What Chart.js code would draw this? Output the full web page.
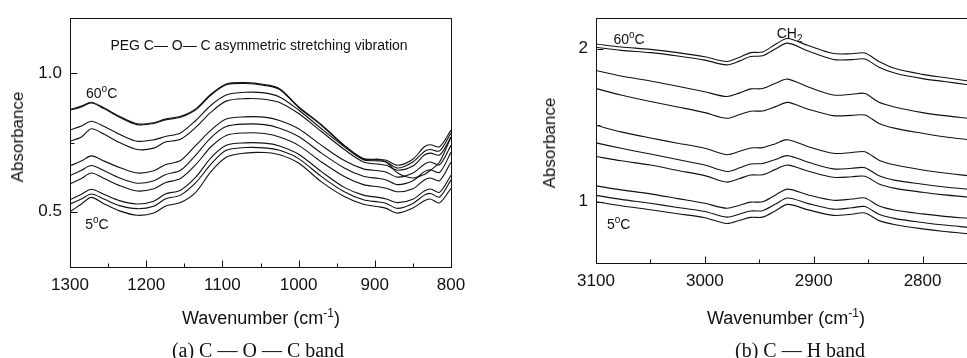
<!DOCTYPE html>
<html>
<head>
<meta charset="utf-8">
<script src="https://cdn.jsdelivr.net/npm/chart.js@4.4.1/dist/chart.umd.min.js"></script>
<style>
  html, body { margin: 0; padding: 0; background: #fff; overflow: hidden; }
  #page { position: relative; width: 967px; height: 358px; overflow: hidden; font-family: "Liberation Sans", Arial, sans-serif; color: #111; }
  canvas { position: absolute; top: 0; }
  #cocChart { left: 0; }
  #chChart { left: 487px; }
  .xtitle, .ytitle, .caption { position: absolute; white-space: nowrap; transform: translate(-50%, -50%); }
  .xtitle { font-size: 18px; }
  .ytitle { font-size: 17px; transform: translate(-50%, -50%) rotate(-90deg); }
  .caption { font-family: "Liberation Serif", "Times New Roman", serif; font-size: 20px; }
  sup { font-size: 12px; vertical-align: 7px; line-height: 0; }
</style>
</head>
<body>
<div id="page">
  <canvas id="cocChart" width="483" height="358"></canvas>
  <canvas id="chChart" width="500" height="358"></canvas>
  <div class="ytitle" style="left:18px; top:137px;">Absorbance</div>
  <div class="xtitle" style="left:261px; top:318px;">Wavenumber (cm<sup>-1</sup>)</div>
  <div class="caption" style="left:258px; top:350px;">(a) C — O — C band</div>
  <div class="ytitle" style="left:550px; top:143px;">Absorbance</div>
  <div class="xtitle" style="left:786px; top:318px;">Wavenumber (cm<sup>-1</sup>)</div>
  <div class="caption" style="left:800px; top:350px;">(b) C — H band</div>
</div>
<script>
// (a) C-O-C band, curves listed top (60 oC) to bottom (5 oC)
const cocWavenumber = [1300, 1285, 1272, 1255, 1235, 1212, 1190, 1175, 1155, 1135, 1115, 1095, 1070, 1045, 1025, 1000, 970, 940, 915, 895, 885, 870, 850, 835, 827, 815, 800];
const coc1 = [0.870, 0.882, 0.896, 0.875, 0.845, 0.818, 0.822, 0.835, 0.845, 0.872, 0.925, 0.962, 0.967, 0.960, 0.945, 0.880, 0.815, 0.740, 0.692, 0.690, 0.686, 0.668, 0.690, 0.735, 0.742, 0.735, 0.795];
const coc2 = [0.867, 0.879, 0.893, 0.872, 0.842, 0.815, 0.819, 0.832, 0.842, 0.869, 0.922, 0.959, 0.964, 0.957, 0.942, 0.877, 0.812, 0.738, 0.690, 0.688, 0.680, 0.640, 0.622, 0.635, 0.650, 0.680, 0.770];
const coc3 = [0.796, 0.810, 0.827, 0.808, 0.780, 0.755, 0.760, 0.772, 0.785, 0.830, 0.885, 0.922, 0.932, 0.930, 0.915, 0.868, 0.800, 0.735, 0.688, 0.684, 0.680, 0.658, 0.680, 0.718, 0.725, 0.720, 0.785];
const coc4 = [0.755, 0.770, 0.800, 0.780, 0.750, 0.725, 0.730, 0.752, 0.762, 0.805, 0.860, 0.900, 0.909, 0.907, 0.895, 0.855, 0.790, 0.725, 0.680, 0.672, 0.668, 0.650, 0.665, 0.705, 0.712, 0.705, 0.770];
const coc5 = [0.666, 0.683, 0.702, 0.683, 0.660, 0.640, 0.648, 0.670, 0.685, 0.740, 0.795, 0.835, 0.843, 0.842, 0.830, 0.800, 0.740, 0.685, 0.655, 0.648, 0.643, 0.625, 0.640, 0.672, 0.680, 0.670, 0.740];
const coc6 = [0.631, 0.650, 0.667, 0.648, 0.622, 0.603, 0.612, 0.634, 0.650, 0.705, 0.768, 0.808, 0.817, 0.815, 0.802, 0.772, 0.712, 0.658, 0.628, 0.620, 0.615, 0.598, 0.612, 0.645, 0.652, 0.642, 0.715];
const coc7 = [0.600, 0.620, 0.640, 0.620, 0.595, 0.575, 0.583, 0.605, 0.620, 0.670, 0.735, 0.776, 0.785, 0.783, 0.770, 0.740, 0.680, 0.627, 0.598, 0.590, 0.585, 0.572, 0.583, 0.615, 0.622, 0.612, 0.680];
const coc8 = [0.544, 0.563, 0.581, 0.562, 0.540, 0.528, 0.538, 0.564, 0.578, 0.625, 0.695, 0.740, 0.749, 0.748, 0.738, 0.708, 0.645, 0.588, 0.560, 0.552, 0.546, 0.533, 0.545, 0.575, 0.582, 0.570, 0.632];
const coc9 = [0.528, 0.546, 0.564, 0.545, 0.522, 0.511, 0.520, 0.546, 0.560, 0.605, 0.672, 0.722, 0.732, 0.731, 0.722, 0.692, 0.627, 0.572, 0.543, 0.535, 0.530, 0.512, 0.530, 0.560, 0.566, 0.553, 0.615];
const coc10 = [0.500, 0.528, 0.552, 0.528, 0.503, 0.487, 0.495, 0.520, 0.533, 0.570, 0.645, 0.697, 0.712, 0.714, 0.706, 0.676, 0.608, 0.555, 0.527, 0.518, 0.512, 0.495, 0.513, 0.540, 0.546, 0.532, 0.585];
const cocXTicks = [1300, 1200, 1100, 1000, 900, 800];
const cocXMinor = [1250, 1150, 1050, 950, 850];
const cocYTicks = [0.5, 1.0];
const cocYMinor = [0.75];

// (b) C-H band, curves listed top (60 oC) to bottom (5 oC)
const chWavenumber = [3100, 3077, 3050, 3025, 3000, 2980, 2968, 2958, 2947, 2935, 2924, 2905, 2882, 2865, 2853, 2840, 2825, 2800, 2780, 2758];
const ch1 = [2.031, 2.012, 1.996, 1.975, 1.948, 1.917, 1.945, 1.975, 1.979, 2.030, 2.067, 2.021, 1.969, 1.968, 1.972, 1.917, 1.871, 1.833, 1.812, 1.790];
const ch2 = [2.010, 1.990, 1.975, 1.953, 1.926, 1.895, 1.921, 1.950, 1.954, 2.000, 2.037, 1.985, 1.930, 1.929, 1.933, 1.880, 1.840, 1.805, 1.786, 1.765];
const ch3 = [1.858, 1.822, 1.790, 1.755, 1.719, 1.688, 1.712, 1.738, 1.740, 1.775, 1.802, 1.750, 1.698, 1.703, 1.708, 1.650, 1.618, 1.583, 1.563, 1.546];
const ch4 = [1.740, 1.698, 1.656, 1.620, 1.583, 1.546, 1.570, 1.592, 1.594, 1.622, 1.650, 1.605, 1.563, 1.565, 1.567, 1.512, 1.480, 1.448, 1.425, 1.406];
const ch5 = [1.500, 1.457, 1.417, 1.383, 1.350, 1.308, 1.330, 1.352, 1.354, 1.380, 1.406, 1.360, 1.317, 1.322, 1.327, 1.272, 1.240, 1.208, 1.188, 1.171];
const ch6 = [1.385, 1.350, 1.312, 1.276, 1.240, 1.198, 1.222, 1.247, 1.250, 1.277, 1.302, 1.258, 1.215, 1.219, 1.223, 1.170, 1.140, 1.115, 1.097, 1.083];
const ch7 = [1.296, 1.268, 1.240, 1.205, 1.171, 1.129, 1.152, 1.175, 1.177, 1.212, 1.240, 1.200, 1.160, 1.164, 1.167, 1.117, 1.088, 1.062, 1.045, 1.031];
const ch8 = [1.104, 1.078, 1.052, 1.021, 0.990, 0.958, 0.978, 0.998, 1.000, 1.045, 1.083, 1.045, 1.010, 1.018, 1.025, 0.972, 0.945, 0.921, 0.905, 0.892];
const ch9 = [1.042, 1.016, 0.990, 0.963, 0.937, 0.900, 0.920, 0.940, 0.942, 0.985, 1.025, 0.988, 0.952, 0.961, 0.969, 0.918, 0.890, 0.865, 0.848, 0.833];
const ch10 = [1.000, 0.974, 0.948, 0.922, 0.896, 0.858, 0.879, 0.898, 0.900, 0.942, 0.983, 0.947, 0.911, 0.919, 0.927, 0.877, 0.850, 0.823, 0.806, 0.792];
const chXTicks = [3100, 3000, 2900, 2800];
const chXMinor = [3050, 2950, 2850, 2750];
const chYTicks = [1, 2];
const chYMinor = [1.5];

const INK = '#111';

// draws "60" + superscript "o" + "C" style text pieces
const drawNote = (ctx, x, y, parts, size, align) => {
  const small = Math.round(size * 0.72);
  const fontOf = s => `${s}px "Liberation Sans", Arial, sans-serif`;
  let width = 0;
  parts.forEach(([t, mode]) => {
    ctx.font = fontOf(mode ? small : size);
    width += ctx.measureText(t).width;
  });
  let cx = align === 'center' ? x - width / 2 : x;
  parts.forEach(([t, mode]) => {
    ctx.font = fontOf(mode ? small : size);
    const dy = mode === 'sup' ? -size * 0.45 : mode === 'sub' ? size * 0.3 : 0;
    ctx.fillText(t, cx, y + dy);
    cx += ctx.measureText(t).width;
  });
};

// box frame, inward tick marks and in-plot labels
const frameAndNotes = {
  id: 'frameAndNotes',
  afterDraw(chart, args, opts) {
    const { ctx, chartArea: a, scales: { x, y } } = chart;
    const L = Math.round(a.left) + 0.5, R = Math.round(a.right) + 0.5;
    const T = Math.round(a.top) + 0.5, B = Math.round(a.bottom) + 0.5;
    ctx.save();
    ctx.strokeStyle = INK;
    ctx.lineWidth = 1;
    ctx.strokeRect(L, T, R - L, B - T);
    ctx.beginPath();
    const xMark = (v, len) => {
      const px = Math.round(x.getPixelForValue(v)) + 0.5;
      ctx.moveTo(px, B); ctx.lineTo(px, B - len);
    };
    const yMark = (v, len) => {
      const py = Math.round(y.getPixelForValue(v)) + 0.5;
      ctx.moveTo(L, py); ctx.lineTo(L + len, py);
    };
    opts.xMajor.forEach(v => xMark(v, 7));
    opts.xMinor.forEach(v => xMark(v, 4));
    opts.yMajor.forEach(v => yMark(v, 7));
    opts.yMinor.forEach(v => yMark(v, 4));
    ctx.stroke();
    ctx.fillStyle = INK;
    ctx.textBaseline = 'alphabetic';
    ctx.textAlign = 'left';
    opts.notes.forEach(n => drawNote(ctx, x.getPixelForValue(n.x), y.getPixelForValue(n.y), n.parts, n.size, n.align));
    ctx.restore();
  }
};

const toPoints = (xs, ys) => xs.map((v, i) => ({ x: v, y: ys[i] }));

const makeChart = (canvasId, cfg) => {
  const ctx = document.getElementById(canvasId).getContext('2d');
  return new Chart(ctx, {
    type: 'line',
    data: {
      datasets: cfg.series.map(s => ({
        data: toPoints(cfg.wavenumber, s),
        borderColor: INK,
        borderWidth: 1.1,
        pointRadius: 0,
        tension: 0.3,
        fill: false,
      })),
    },
    options: {
      responsive: false,
      animation: false,
      devicePixelRatio: 1,
      layout: { padding: cfg.padding },
      plugins: {
        legend: { display: false },
        tooltip: { enabled: false },
        frameAndNotes: {
          xMajor: cfg.xTicks, xMinor: cfg.xMinor,
          yMajor: cfg.yTicks, yMinor: cfg.yMinor,
          notes: cfg.notes,
        },
      },
      scales: {
        x: {
          type: 'linear',
          reverse: true,
          min: cfg.xRange[0],
          max: cfg.xRange[1],
          grid: { display: false, drawTicks: false },
          border: { display: false },
          afterBuildTicks: s => { s.ticks = cfg.xTicks.map(v => ({ value: v })); },
          afterFit: s => { s.height = cfg.xHeight; },
          ticks: {
            autoSkip: false, maxRotation: 0, padding: 8, color: INK,
            font: { family: '"Liberation Sans", Arial, sans-serif', size: 17 },
            callback: v => String(v),
          },
        },
        y: {
          min: cfg.yRange[0],
          max: cfg.yRange[1],
          grid: { display: false, drawTicks: false },
          border: { display: false },
          afterBuildTicks: s => { s.ticks = cfg.yTicks.map(v => ({ value: v })); },
          afterFit: s => { s.width = cfg.yWidth; },
          ticks: {
            autoSkip: false, padding: 8, color: INK,
            font: { family: '"Liberation Sans", Arial, sans-serif', size: 17 },
            callback: cfg.yFormat,
          },
        },
      },
    },
    plugins: [frameAndNotes],
  });
};

makeChart('cocChart', {
  wavenumber: cocWavenumber,
  series: [coc1, coc2, coc3, coc4, coc5, coc6, coc7, coc8, coc9, coc10],
  xRange: [800, 1300], yRange: [0.3, 1.2],
  xTicks: cocXTicks, xMinor: cocXMinor, yTicks: cocYTicks, yMinor: cocYMinor,
  yFormat: v => v.toFixed(1),
  padding: { top: 13, right: 32, left: 0, bottom: 0 },
  yWidth: 70, xHeight: 91,
  notes: [
    { x: 1052, y: 1.085, size: 14, align: 'center', parts: [['PEG C\u2014 O\u2014 C asymmetric stretching vibration', '']] },
    { x: 1279, y: 0.912, size: 14, align: 'left', parts: [['60', ''], ['o', 'sup'], ['C', '']] },
    { x: 1280, y: 0.438, size: 14, align: 'left', parts: [['5', ''], ['o', 'sup'], ['C', '']] },
  ],
});

makeChart('chChart', {
  wavenumber: chWavenumber,
  series: [ch1, ch2, ch3, ch4, ch5, ch6, ch7, ch8, ch9, ch10],
  xRange: [2750, 3100], yRange: [0.6, 2.2],
  xTicks: chXTicks, xMinor: chXMinor, yTicks: chYTicks, yMinor: chYMinor,
  yFormat: v => String(v),
  padding: { top: 9, right: 10, left: 0, bottom: 0 },
  yWidth: 109, xHeight: 95,
  notes: [
    { x: 3084, y: 2.031, size: 14, align: 'left', parts: [['60', ''], ['o', 'sup'], ['C', '']] },
    { x: 2934, y: 2.073, size: 14, align: 'left', parts: [['CH', ''], ['2', 'sub']] },
    { x: 3090, y: 0.823, size: 14, align: 'left', parts: [['5', ''], ['o', 'sup'], ['C', '']] },
  ],
});
</script>
</body>
</html>
